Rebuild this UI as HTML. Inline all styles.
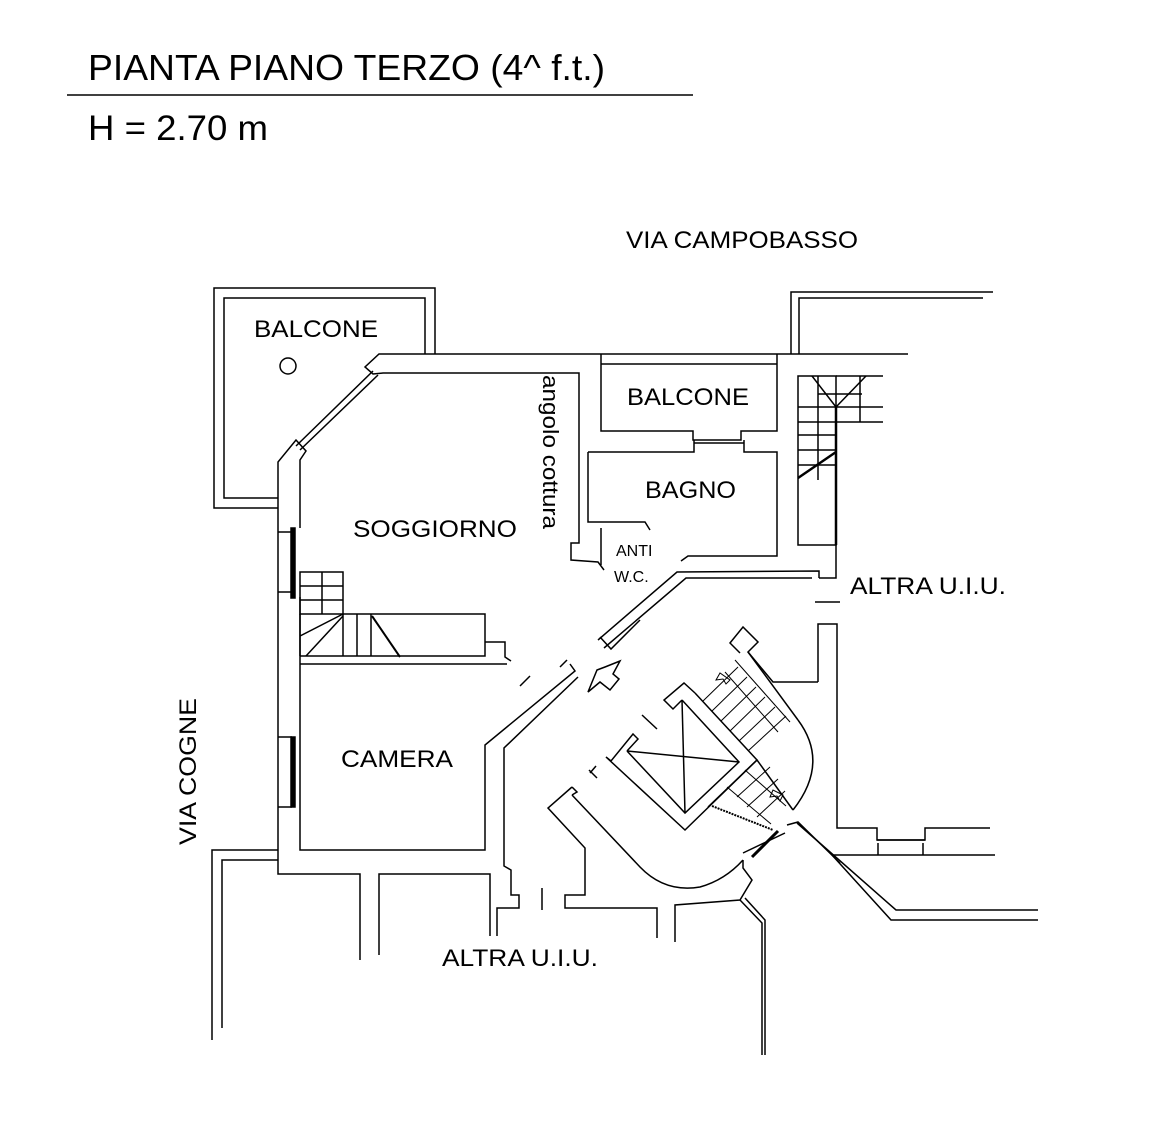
<!DOCTYPE html>
<html><head><meta charset="utf-8"><style>
body{margin:0;background:#fff}
svg{display:block}
text{font-family:"Liberation Sans",sans-serif;fill:#000}
</style></head><body>
<svg width="1160" height="1132" viewBox="0 0 1160 1132" xmlns="http://www.w3.org/2000/svg">
<g fill="none" stroke="#000" stroke-width="1.5">
<line x1="67" y1="95" x2="693" y2="95"/>
<!-- left balcone -->
<polyline points="278,508 214,508 214,288 435,288 435,354"/>
<polyline points="278,498 224,498 224,298 425,298 425,354"/>
<circle cx="288" cy="366" r="8"/>
<!-- top wall -->
<polyline points="908,354 379,354 365,367 373,374 383,373 579,373 579,543 571,543 571,560 598,562 604,570"/>
<line x1="378" y1="375" x2="300" y2="450"/>
<line x1="373" y1="371" x2="296" y2="446"/>
<polyline points="278,850 278,462 296,440 306,451 300,460 300,528"/>
<rect x="291" y="528" width="4" height="70" fill="#000"/>
<polyline points="278,532 292,532"/><polyline points="278,592 292,592"/>
<polyline points="300,597 300,664"/>
<!-- stairs left -->
<rect x="300" y="572" width="43" height="42"/>
<line x1="322" y1="572" x2="322" y2="614"/><line x1="300" y1="586" x2="343" y2="586"/><line x1="300" y1="600" x2="343" y2="600"/>
<polyline points="343,614 485,614 485,656 300,656"/>
<line x1="300" y1="614" x2="300" y2="656"/>
<line x1="357" y1="614" x2="357" y2="656"/><line x1="371" y1="614" x2="371" y2="656"/>
<line x1="343" y1="614" x2="343" y2="656"/>
<line x1="300" y1="636" x2="343" y2="614"/><line x1="306" y1="656" x2="343" y2="616"/>
<line x1="372" y1="616" x2="400" y2="657" stroke-width="2"/>
<polyline points="485,642 505,642 505,657 511,661"/>
<polyline points="300,664 507,664"/>
<!-- camera -->
<polyline points="300,664 300,850 485,850 485,745 575,671 570,664"/>
<polyline points="278,737 292,737"/><polyline points="278,807 292,807"/>
<rect x="291" y="737" width="4" height="70" fill="#000"/>
<polyline points="504,845 504,748 578,677"/>
<!-- bottom-left -->
<polyline points="278,850 212,850 212,1040"/>
<polyline points="278,860 222,860 222,1028"/>
<polyline points="278,850 278,874 360,874 360,960"/>
<polyline points="379,955 379,874 490,874 490,936"/>
<polyline points="504,845 504,866 511,870 511,895 519,895 519,908 497,908 497,936"/>
<line x1="542" y1="888" x2="542" y2="910"/>
<!-- kitchen / corridor diagonals -->
<polyline points="598,640 677,572 819,571 819,578"/>
<polyline points="604,648 686,578 812,578"/>
<polyline points="600,637 611,649 640,620"/>
<line x1="520" y1="686" x2="530" y2="676"/>
<line x1="560" y1="667" x2="567" y2="660"/>
<!-- arrow -->
<polygon points="620,661 605,667 597,670 588,692 600,682 610,690 619,679 613,674"/>
<!-- right balcone and bagno -->
<polyline points="601,354 601,431 693,431 693,440 741,440 741,431 777,431 777,354"/>
<line x1="601" y1="364" x2="777" y2="364"/>
<polyline points="588,452 694,452 694,440"/><polyline points="744,440 744,452 777,452 777,556 688,556 681,561"/>
<line x1="694" y1="443" x2="744" y2="443"/>
<polyline points="588,452 588,522 645,522 650,530"/>
<polyline points="601,528 601,565"/>
<text x="616" y="556" font-size="16" stroke="none" fill="#777">ANTI</text>
<text x="614" y="582" font-size="16" stroke="none" fill="#777">W.C.</text>
<!-- right top -->
<polyline points="791,354 791,292 993,292"/>
<polyline points="799,354 799,298 983,298"/>
<!-- right stair -->
<rect x="798" y="376" width="38" height="169"/>
<line x1="836" y1="376" x2="883" y2="376"/><line x1="836" y1="407" x2="883" y2="407"/><line x1="836" y1="422" x2="883" y2="422"/>
<line x1="818" y1="376" x2="818" y2="480"/><line x1="860" y1="376" x2="860" y2="422"/>
<line x1="798" y1="407" x2="836" y2="407"/><line x1="798" y1="422" x2="836" y2="422"/><line x1="798" y1="435" x2="836" y2="435"/><line x1="798" y1="450" x2="836" y2="450"/><line x1="798" y1="465" x2="836" y2="465"/>
<line x1="812" y1="376" x2="836" y2="407"/><line x1="866" y1="376" x2="836" y2="407"/><line x1="818" y1="394" x2="862" y2="394"/>
<line x1="798" y1="478" x2="836" y2="452" stroke-width="2.5"/>
<line x1="836" y1="407" x2="836" y2="545" stroke-width="2.5"/>
<polyline points="836,545 836,578 819,578"/>
<line x1="815" y1="602" x2="840" y2="602"/>
<polyline points="818,682 818,624 837,624 837,828 877,828 877,840 925,840 925,828 990,828"/>
<polyline points="818,682 773,682 748,652 758,642 743,627 730,643 740,653"/>
<polyline points="832,855 995,855"/>
<line x1="877" y1="840" x2="925" y2="840"/><line x1="878" y1="843" x2="878" y2="855"/><line x1="923" y1="843" x2="923" y2="855"/>
<!-- stairwell -->
<polyline points="695,693 684,683 664,700 673,709 682,700"/>
<polyline points="695,693 757,760 685,830 606,757 611,761 633,734 638,739 627,751"/>
<polyline points="682,700 739,762 685,813 627,751"/>
<line x1="682" y1="700" x2="685" y2="813"/><line x1="627" y1="751" x2="739" y2="762"/>
<!-- stair band -->
<line x1="748" y1="652" x2="798" y2="720"/>
<path d="M798,720 Q830,763 793,810"/>
<line x1="757" y1="760" x2="793" y2="810"/>
<line x1="708" y1="807" x2="757" y2="760"/>
<g stroke-width="1">
<line x1="703" y1="701" x2="738" y2="667"/><line x1="712" y1="711" x2="747" y2="677"/><line x1="721" y1="721" x2="756" y2="687"/><line x1="730" y1="731" x2="765" y2="697"/><line x1="739" y1="741" x2="775" y2="707"/><line x1="748" y1="751" x2="786" y2="716"/>
<line x1="725" y1="672" x2="778" y2="732"/><line x1="735" y1="660" x2="790" y2="722"/>
<line x1="727" y1="787" x2="771" y2="824"/><line x1="745" y1="770" x2="786" y2="806"/>
<line x1="737" y1="797" x2="770" y2="767"/><line x1="747" y1="807" x2="778" y2="779"/><line x1="757" y1="817" x2="785" y2="791"/>
<polygon points="720,673 716,680 723,679 726,684 730,680"/>
<polygon points="773,790 770,797 777,796 780,801 783,795"/>
</g>
<line x1="712" y1="806" x2="773" y2="830" stroke-dasharray="2,1" stroke-width="2"/>
<line x1="752" y1="857" x2="778" y2="831" stroke-width="3"/>
<polyline points="743,853 785,833"/>
<polyline points="787,825 798,822 840,863"/>
<!-- curved corridor wall -->
<polyline points="572,787 577,792 572,795"/>
<polyline points="572,787 548,808 585,848 585,895 565,895 565,908 657,908 657,938"/>
<path d="M572,795 L640,867 Q665,893 700,887 Q725,880 743,860"/>
<polyline points="743,860 743,868 752,880 740,900 675,905 675,942"/>
<line x1="590" y1="773" x2="596" y2="766"/>
<line x1="642" y1="715" x2="657" y2="729"/><line x1="588" y1="770" x2="596" y2="777" stroke-width="0"/>
<line x1="589" y1="770" x2="597" y2="778"/>
<polyline points="797,823 896,910 1038,910"/>
<polyline points="832,855 891,920 1038,920"/>
<polyline points="740,900 762,923 762,1055"/>
<polyline points="745,898 765,920 765,1055"/>
</g>
<g stroke="none">
<text x="88" y="80" font-size="36" textLength="517" lengthAdjust="spacingAndGlyphs">PIANTA PIANO TERZO (4^ f.t.)</text>
<text x="88" y="140" font-size="35" textLength="180" lengthAdjust="spacingAndGlyphs">H = 2.70 m</text>
<text x="626" y="248" font-size="24" textLength="232" lengthAdjust="spacingAndGlyphs">VIA CAMPOBASSO</text>
<text x="254" y="337" font-size="24" textLength="124" lengthAdjust="spacingAndGlyphs">BALCONE</text>
<text x="627" y="405" font-size="24" textLength="122" lengthAdjust="spacingAndGlyphs">BALCONE</text>
<text x="645" y="498" font-size="24" textLength="91" lengthAdjust="spacingAndGlyphs">BAGNO</text>
<text x="353" y="537" font-size="24" textLength="164" lengthAdjust="spacingAndGlyphs">SOGGIORNO</text>
<text x="341" y="767" font-size="24" textLength="112" lengthAdjust="spacingAndGlyphs">CAMERA</text>
<text x="850" y="594" font-size="24" textLength="156" lengthAdjust="spacingAndGlyphs">ALTRA U.I.U.</text>
<text x="442" y="966" font-size="24" textLength="156" lengthAdjust="spacingAndGlyphs">ALTRA U.I.U.</text>
<text transform="translate(543,375) rotate(90)" font-size="22" textLength="154" lengthAdjust="spacingAndGlyphs">angolo cottura</text>
<text transform="translate(196,845) rotate(-90)" font-size="24" textLength="147" lengthAdjust="spacingAndGlyphs">VIA COGNE</text>
</g>
</svg>
</body></html>
